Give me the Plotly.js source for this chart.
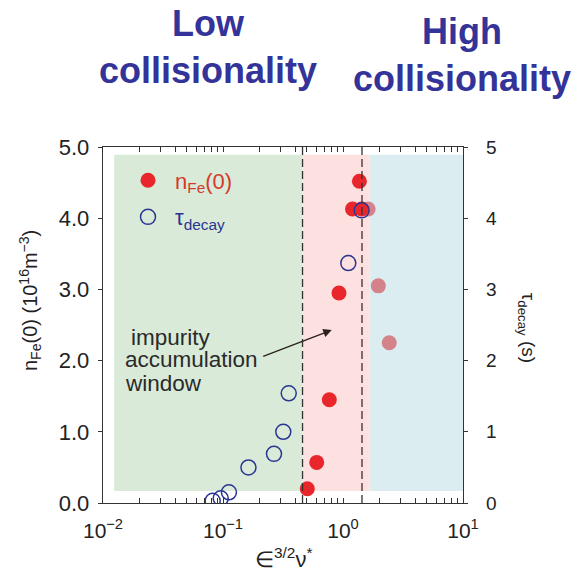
<!DOCTYPE html>
<html>
<head>
<meta charset="utf-8">
<script src="https://cdn.plot.ly/plotly-3.0.1.min.js"></script>
<style>html,body{margin:0;padding:0;background:#fff}#chart{width:579px;height:573px}</style>
</head>
<body>
<div id="chart"></div>
<script>
// ---- data ----
const nFeX = [1.37, 1.20, 1.43, 0.926, 0.769, 0.604, 0.504];
const nFeY = [4.52, 4.13, 4.13, 2.95, 1.45, 0.57, 0.20];
const fadedX = [1.62, 1.97, 2.43];
const fadedY = [4.13, 3.05, 2.25];
const tauX = [1.43, 1.107, 0.353, 0.318, 0.266, 0.163, 0.112, 0.0957, 0.082];
const tauY = [4.11, 3.37, 1.54, 1.00, 0.69, 0.50, 0.15, 0.066, 0.03];
const regionEdges = [0.0124, 0.46, 1.66, 10];
const regionYRange = [0.17, 4.89];
const windowLines = [0.46, 1.44];
const xTickVals = [0.01, 0.1, 1, 10];
const xTickText = ['10<sup>\u22122</sup>', '10<sup>\u22121</sup>', '10<sup>0</sup>', '10<sup>1</sup>'];
const yTickVals = [0, 1, 2, 3, 4, 5];
const yTickText = ['0.0', '1.0', '2.0', '3.0', '4.0', '5.0'];
const y2TickText = ['0', '1', '2', '3', '4', '5'];

const FONT = 'Liberation Sans, Arial, Helvetica, sans-serif';
const minorVals = [];
for (let d = 0; d < 3; d++) for (let k = 2; k <= 9; k++) minorVals.push(k * xTickVals[d]);

const traces = [
  {x: fadedX, y: fadedY, type: 'scatter', mode: 'markers', showlegend: false,
   marker: {size: 15, color: '#d4838a'}, yaxis: 'y', hoverinfo: 'skip'},
  {x: nFeX, y: nFeY, type: 'scatter', mode: 'markers', legendrank: 1, legendgroup: 'a',
   name: '<span style="color:#d43a2c">n<sub>Fe</sub>(0)</span>',
   marker: {size: 15, color: '#e8262b'}, yaxis: 'y'},
  {x: tauX, y: tauY, type: 'scatter', mode: 'markers', legendrank: 2, legendgroup: 'b',
   name: '<span style="color:#2b3592">\u03c4<sub>decay</sub></span>',
   marker: {size: 15, symbol: 'circle-open', color: '#2b3592', line: {width: 1.5}}, yaxis: 'y2'}
];

const colors = ['#d9ebd8', '#fde0e0', '#dbedf0'];
const shapes = [];
for (let i = 0; i < 3; i++) {
  shapes.push({type: 'rect', xref: 'x', yref: 'y', layer: 'below',
    x0: regionEdges[i], x1: regionEdges[i + 1], y0: regionYRange[0], y1: regionYRange[1],
    fillcolor: colors[i], line: {width: 0}});
}
windowLines.forEach(v => shapes.push({type: 'line', xref: 'x', yref: 'paper', x0: v, x1: v, y0: 0, y1: 1,
  line: {color: '#333', width: 1.3, dash: '8px,4px'}}));

const axisCommon = {showgrid: false, zeroline: false, linecolor: '#333', linewidth: 1.3, tickcolor: '#333'};

const layout = {
  width: 579, height: 573,
  margin: {l: 103, r: 116, t: 147, b: 70},
  paper_bgcolor: '#fff', plot_bgcolor: '#fff',
  font: {family: FONT, color: '#222'},
  showlegend: true,
  legend: {x: 0.05, y: 0.965, xanchor: 'left', yanchor: 'top', bgcolor: 'rgba(0,0,0,0)',
    font: {size: 22, family: FONT}, itemsizing: 'trace', itemwidth: 44,
    traceorder: 'grouped', tracegroupgap: 5},
  xaxis: Object.assign({}, axisCommon, {type: 'log', range: [-2, 1], mirror: 'ticks', ticks: 'inside', ticklen: 5,
    tickmode: 'array', tickvals: xTickVals, ticktext: xTickText, ticklabelstandoff: 8,
    tickfont: {size: 21, color: '#222'},
    minor: {ticks: 'inside', ticklen: 5, tickmode: 'array', tickvals: minorVals, tickcolor: '#333', showgrid: false}}),
  yaxis: Object.assign({}, axisCommon, {range: [0, 5], mirror: true, ticks: 'outside', ticklen: 4,
    tickmode: 'array', tickvals: yTickVals, ticktext: yTickText, ticklabelstandoff: 4,
    tickfont: {size: 22, color: '#222'}}),
  yaxis2: Object.assign({}, axisCommon, {range: [0, 5], overlaying: 'y', side: 'right', ticks: 'outside', ticklen: 4,
    tickmode: 'array', tickvals: yTickVals, ticktext: y2TickText, ticklabelstandoff: 14,
    tickfont: {size: 19, color: '#222'}}),
  yaxis3: Object.assign({}, axisCommon, {range: [0, 5], overlaying: 'y', side: 'left', mirror: 'ticks', ticks: 'inside', ticklen: 5,
    tickmode: 'array', tickvals: yTickVals, showticklabels: false, showline: false}),
  shapes: shapes,
  annotations: [
    {xref: 'paper', yref: 'paper', x: 0.292, y: 1.281, xanchor: 'center', yanchor: 'middle', showarrow: false,
     text: '<b>Low<br>collisionality</b>', font: {size: 36, color: '#333399', family: FONT}},
    {xref: 'paper', yref: 'paper', x: 0.997, y: 1.258, xanchor: 'center', yanchor: 'middle', showarrow: false,
     text: '<b>High<br>collisionality</b>', font: {size: 36, color: '#333399', family: FONT}},
    {xref: 'paper', yref: 'paper', x: 0.072, y: 0.466, xanchor: 'left', yanchor: 'middle', showarrow: false,
     text: 'impurity', font: {size: 22.5, color: '#2a2a2a', family: FONT}},
    {xref: 'paper', yref: 'paper', x: 0.056, y: 0.402, xanchor: 'left', yanchor: 'middle', showarrow: false,
     text: 'accumulation', font: {size: 22.5, color: '#2a2a2a', family: FONT}},
    {xref: 'paper', yref: 'paper', x: 0.056, y: 0.337, xanchor: 'left', yanchor: 'middle', showarrow: false,
     text: 'window', font: {size: 22.5, color: '#2a2a2a', family: FONT}},
    {xref: 'x', yref: 'y', x: Math.log10(0.805), y: 2.43, ax: -70, ay: 27, text: '', showarrow: true,
     arrowhead: 2, arrowsize: 1.3, arrowwidth: 1.3, arrowcolor: '#2a2020'},
    {xref: 'paper', yref: 'paper', x: -0.203, y: 0.57, xanchor: 'center', yanchor: 'middle', showarrow: false, textangle: -90,
     text: 'n<sub>Fe</sub>(0) (10<sup>16</sup>m<sup>\u22123</sup>)', font: {size: 20, color: '#222', family: FONT}},
    {xref: 'paper', yref: 'paper', x: 1.178, y: 0.492, xanchor: 'center', yanchor: 'middle', showarrow: false, textangle: 90,
     text: '\u03c4<sub>decay</sub> (s)', font: {size: 19, color: '#222', family: FONT}},
    {xref: 'paper', yref: 'paper', x: 0.5, y: -0.155, xanchor: 'center', yanchor: 'middle', showarrow: false,
     text: '\u2208<sup>3/2</sup>\u03bd<sup>*</sup>', font: {size: 22, color: '#222', family: FONT}}
  ]
};

Plotly.newPlot('chart', traces, layout, {staticPlot: true, displayModeBar: false});
</script>
</body>
</html>
